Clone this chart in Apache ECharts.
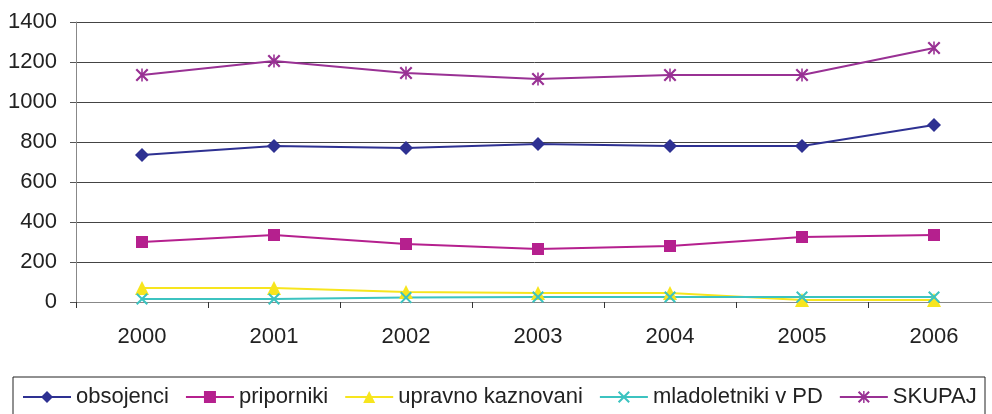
<!DOCTYPE html>
<html>
  <head>
    <meta charset="utf-8" />
    <title>Zaprte osebe</title>
    <script src="https://cdn.jsdelivr.net/npm/echarts@6/dist/echarts.min.js"></script>
    <style>
      body { margin: 0; background: #fff; }
      #chart { width: 992px; height: 414px; }
    </style>
  </head>
<body>
  <div id="chart"></div>
  <script type="text/javascript">
var years = ['2000', '2001', '2002', '2003', '2004', '2005', '2006'];
var obsojenci = [735, 780, 770, 790, 780, 780, 885];
var priporniki = [300, 335, 290, 265, 280, 325, 335];
var upravnoKaznovani = [70, 70, 50, 45, 45, 10, 10];
var mladoletniki = [15, 15, 22, 25, 25, 25, 25];
var skupaj = [1135, 1205, 1145, 1115, 1135, 1135, 1270];
var yTicks = { min: 0, max: 1400, interval: 200 };

var crossPath = 'path://M0,1.2L1.2,0L5,3.8L8.8,0L10,1.2L6.2,5L10,8.8L8.8,10L5,6.2L1.2,10L0,8.8L3.8,5Z';
var starPath = 'path://M0,1.2L1.2,0L5,3.8L8.8,0L10,1.2L6.2,5L10,8.8L8.8,10L5,6.2L1.2,10L0,8.8L3.8,5Z' +
  'M4.4,0L5.6,0L5.6,10L4.4,10Z';

var font = 'Liberation Sans, Arial, sans-serif';

function line(name, data, color, symbol, size) {
  return {
    name: name,
    type: 'line',
    data: data,
    symbol: symbol,
    symbolSize: size,
    showAllSymbol: true,
    lineStyle: { color: color, width: 2 },
    itemStyle: { color: color },
    animation: false
  };
}

var chart = echarts.init(document.getElementById('chart'));
var option = {
  animation: false,
  grid: { left: 76, top: 22, width: 924, height: 280, outerBoundsMode: 'none', containLabel: false },
  graphic: [{
    type: 'rect',
    shape: { x: 13, y: 377, width: 972, height: 50 },
    style: { fill: 'none', stroke: '#222', lineWidth: 1 }
  }],
  legend: {
    left: 22,
    top: 386,
    padding: 0,
    itemWidth: 48,
    itemHeight: 15,
    itemGap: 16,
    textStyle: { fontFamily: font, fontSize: 22, color: '#222' },
    data: ['obsojenci', 'priporniki', 'upravno kaznovani', 'mladoletniki v PD', 'SKUPAJ']
  },
  xAxis: {
    type: 'category',
    data: years,
    boundaryGap: true,
    axisLine: { lineStyle: { color: '#888', width: 1 } },
    axisTick: { show: true, length: 6, lineStyle: { color: '#333' } },
    axisLabel: { fontFamily: font, fontSize: 22, color: '#222', margin: 24 }
  },
  yAxis: {
    type: 'value',
    min: yTicks.min,
    max: yTicks.max,
    interval: yTicks.interval,
    axisLine: { show: true, lineStyle: { color: '#888' } },
    axisTick: { show: true, length: 6, lineStyle: { color: '#555' } },
    axisLabel: {
      fontFamily: font, fontSize: 22, color: '#222', margin: 19,
      formatter: function (v) { return String(v); }
    },
    splitLine: { lineStyle: { color: '#444', width: 1 } }
  },
  series: [
    line('obsojenci', obsojenci, '#2E3192', 'diamond', 14),
    line('priporniki', priporniki, '#B5208E', 'rect', 12),
    line('upravno kaznovani', upravnoKaznovani, '#F7E51E', 'triangle', 14),
    line('mladoletniki v PD', mladoletniki, '#3CC3C0', crossPath, 12),
    line('SKUPAJ', skupaj, '#993194', starPath, 13)
  ]
};
chart.setOption(option);
  </script>
</body>
</html>
